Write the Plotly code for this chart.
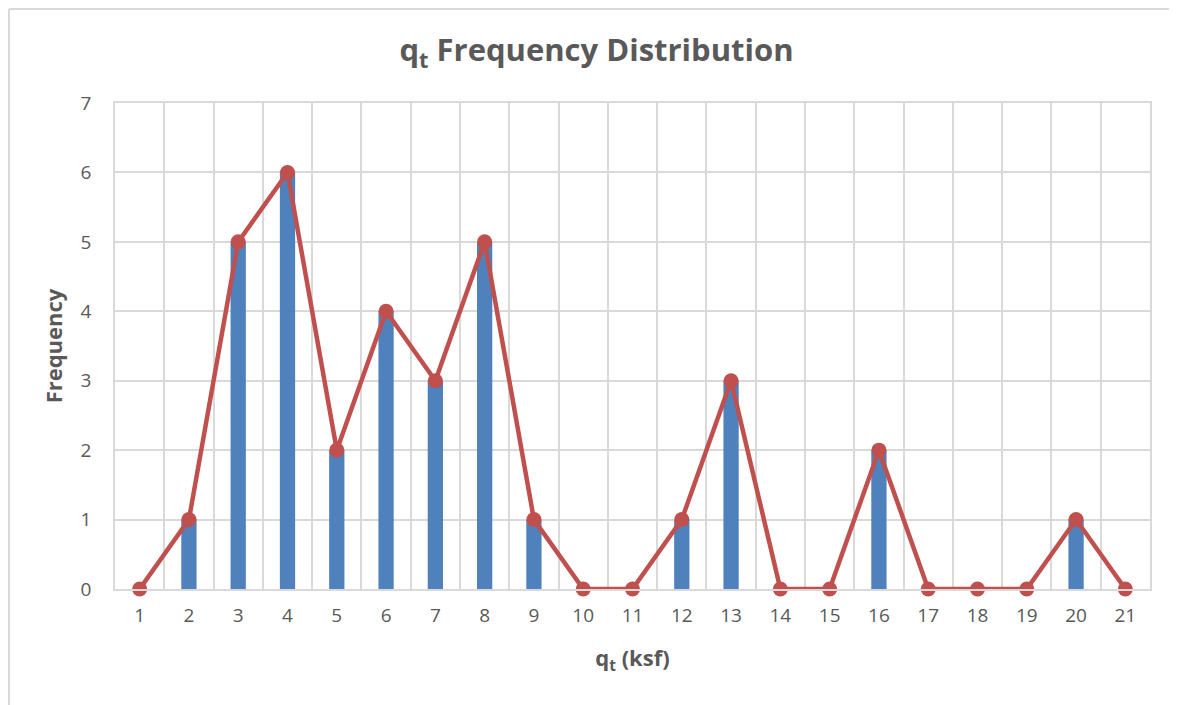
import plotly.graph_objects as go

# bin centres (q_t, ksf) and counts
bins = [str(i) for i in range(1, 22)]
freq = [0, 1, 5, 6, 2, 4, 3, 5, 1, 0, 0, 1, 3, 0, 0, 2, 0, 0, 0, 1, 0]

grid = "#D9D9D9"
txt = "#595959"
font = "Open Sans, Liberation Sans, sans-serif"

fig = go.Figure()

fig.add_trace(go.Bar(
    x=bins, y=freq,
    marker=dict(color="#4F81BD", line=dict(width=0)),
    width=0.31,
    name="Frequency",
))

fig.add_trace(go.Scatter(
    x=bins, y=freq,
    mode="lines+markers",
    line=dict(color="#C0504D", width=4.5),
    marker=dict(color="#C0504D", size=15),
    name="Polygon",
    cliponaxis=False,
))

# page body adds ~8px offset, margins compensate
fig.update_layout(
    width=1177, height=705,
    margin=dict(l=107, r=35, t=95, b=124),
    paper_bgcolor="white",
    plot_bgcolor="white",
    showlegend=False,
    font=dict(family=font, color=txt, size=19),
    title=dict(
        text="<b>q<sub>t</sub> Frequency Distribution</b>",
        x=0.5, xanchor="center", y=0.94, yanchor="middle",
        font=dict(size=31, color=txt, family=font),
    ),
    xaxis=dict(
        type="category",
        range=[-0.5, 20.5],
        tickson="boundaries",
        showgrid=True, gridcolor=grid, gridwidth=1.5,
        showline=True, linecolor=grid, linewidth=1.5, mirror=True,
        ticks="", ticklen=0,
        ticklabelstandoff=8,
        tickfont=dict(size=19, color=txt),
        title=dict(text="<b>q<sub>t</sub> (ksf)</b>", font=dict(size=22, color=txt), standoff=24),
    ),
    yaxis=dict(
        range=[0, 7], dtick=1,
        showgrid=True, gridcolor=grid, gridwidth=1.5,
        showline=True, linecolor=grid, linewidth=1.5, mirror=True,
        zeroline=False,
        ticks="", tickfont=dict(size=19, color=txt),
        ticklabelstandoff=18,
        title=dict(text="<b>Frequency</b>", font=dict(size=22, color=txt), standoff=12),
    ),
)

# outer chart border: only top and left edges are visible in the frame
bx = -106 / 1035
by = 1 + 94 / 486
fig.add_shape(type="line", xref="paper", yref="paper",
              x0=bx, x1=1.1, y0=by, y1=by,
              line=dict(color=grid, width=2), layer="below")
fig.add_shape(type="line", xref="paper", yref="paper",
              x0=bx, x1=bx, y0=-0.4, y1=by,
              line=dict(color=grid, width=2), layer="below")

fig.write_html("out.html")
